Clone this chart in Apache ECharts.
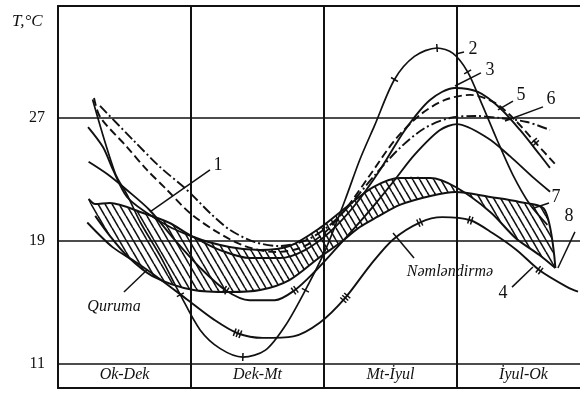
<!DOCTYPE html>
<html>
<head>
<meta charset="utf-8">
<script src="https://cdn.jsdelivr.net/npm/echarts@6/dist/echarts.min.js"></script>
<style>
html, body { margin: 0; background: #fff; }
#chart { width: 580px; height: 395px; }
</style>
</head>
<body>
<div id="chart"></div>
<script>
// periods along the bottom band, and the temperature rows
var periods = ['Ok-Dek', 'Dek-Mt', 'Mt-İyul', 'İyul-Ok'];
var periodEdges = [1, 2, 3];
var tempTicks = [11, 19, 27];

// curves as [position along the periods, T °C]
var curve1 = [[0.23,24.15],[0.37,23.35],[0.52,22.3],[0.69,21.0],[0.88,19.05],[1.07,17.25],[1.26,15.8],[1.44,15.15],[1.63,15.15],[1.78,15.8],[1.93,17.0],[2.08,18.4],[2.23,19.85],[2.38,21.35],[2.53,22.95],[2.68,24.6],[2.87,26.2],[3.0,26.6],[3.23,25.7],[3.4,24.5],[3.57,23.15],[3.7,22.2]];
var curve2 = [[0.26,28.2],[0.43,23.4],[0.52,22.0],[0.62,20.2],[0.77,18.0],[0.92,15.5],[1.07,13.2],[1.22,12.0],[1.39,11.45],[1.56,11.9],[1.71,13.5],[1.86,15.8],[2.01,18.4],[2.16,21.7],[2.27,24.3],[2.38,26.5],[2.53,29.5],[2.68,31.0],[2.85,31.55],[2.97,31.2],[3.08,30.0],[3.19,27.85],[3.3,25.6],[3.42,23.3],[3.55,21.35],[3.68,20.05]];
var curve3 = [[0.226,26.41],[0.338,25.11],[0.414,23.62],[0.519,21.86],[0.669,20.82],[0.842,19.91],[1.015,19.26],[1.218,18.41],[1.444,17.89],[1.669,17.89],[1.857,18.41],[2.045,19.59],[2.233,21.34],[2.421,23.62],[2.609,26.22],[2.797,28.17],[2.985,28.95],[3.158,28.69],[3.323,27.65],[3.474,26.22],[3.624,24.59],[3.699,23.75]];
var curve4 = [[0.22,20.2],[0.41,18.6],[0.59,17.6],[0.77,16.5],[0.97,15.2],[1.17,13.9],[1.35,13.0],[1.54,12.7],[1.77,12.8],[1.97,13.7],[2.16,15.3],[2.35,17.45],[2.52,19.1],[2.72,20.2],[2.89,20.55],[3.1,20.35],[3.27,19.5],[3.45,18.4],[3.62,17.1],[3.83,16.0],[3.91,15.7]];
var curve5 = [[0.271,28.3],[0.316,27.07],[0.519,25.11],[0.669,23.62],[0.82,22.32],[0.992,20.82],[1.195,19.59],[1.406,18.67],[1.632,18.28],[1.82,18.54],[1.985,19.39],[2.158,21.02],[2.346,23.29],[2.534,25.57],[2.722,27.2],[2.91,28.17],[3.098,28.5],[3.286,27.98],[3.436,26.87],[3.586,25.44],[3.744,23.94]];
var curve6 = [[0.316,27.78],[0.564,25.57],[0.767,23.81],[0.97,22.32],[1.143,20.82],[1.293,19.72],[1.481,18.93],[1.669,18.67],[1.872,19.07],[2.045,20.04],[2.195,21.34],[2.383,23.29],[2.571,25.05],[2.759,26.35],[2.947,27.0],[3.135,27.13],[3.323,27.0],[3.526,26.74],[3.699,26.22]];
// hatched zone: curve 8 on top at the left, curve 7 below it
var curve8 = [[0.23,21.73],[0.28,21.4],[0.39,21.47],[0.64,20.82],[0.84,20.17],[1.02,19.26],[1.29,18.61],[1.52,18.41],[1.74,18.67],[1.97,19.85],[2.17,21.21],[2.37,22.51],[2.57,23.1],[2.8,23.1],[2.99,22.51],[3.25,20.89],[3.44,19.2],[3.62,18.09],[3.74,17.24]];
var curve7 = [[0.28,20.63],[0.39,19.33],[0.52,18.02],[0.71,16.72],[1.02,15.81],[1.29,15.68],[1.52,15.81],[1.74,16.46],[1.97,17.96],[2.12,18.87],[2.27,19.91],[2.4,20.56],[2.57,21.35],[2.8,21.93],[2.99,22.19],[3.25,21.86],[3.47,21.54],[3.66,21.02],[3.74,17.24]];

var curves = { c1: curve1, c2: curve2, c4: curve4, c5: curve5 };
// cross-bars drawn on the curves: curve, point index, number of bars
var crossBars = [
  ['c2', 5, 1], ['c2', 8, 1], ['c2', 11, 1], ['c2', 16, 1], ['c2', 18, 1], ['c2', 20, 1],
  ['c4', 6, 3], ['c4', 10, 3], ['c4', 13, 2], ['c4', 15, 2], ['c4', 18, 2],
  ['c1', 6, 2], ['c1', 9, 2],
  ['c5', 19, 2]
];

// text, text spot, leader from, leader to
var notes = [
  ['1', [1.203,23.94], [1.143,23.62], [0.692,20.89]],
  ['2', [3.12,31.49], [3.053,31.29], [2.992,31.16]],
  ['3', [3.248,30.12], [3.18,29.93], [2.985,29.08]],
  ['4', [3.346,15.62], [3.414,16.0], [3.571,17.31]],
  ['5', [3.481,28.5], [3.421,28.1], [3.308,27.52]],
  ['6', [3.707,28.24], [3.647,27.72], [3.361,26.8]],
  ['7', [3.744,21.86], [3.692,21.47], [3.579,21.15]],
  ['8', [3.842,20.63], [3.887,19.59], [3.759,17.24]],
  ['Quruma', [0.421,14.71], [0.496,15.68], [0.669,17.11]],
  ['Nəmləndirmə', [2.947,16.98], [2.677,17.89], [2.519,19.52]]
];

var ink = '#111';
var serif = '"Liberation Serif", "DejaVu Serif", serif';

// diagonal hatch tile
var hatch = document.createElement('canvas');
hatch.width = 7; hatch.height = 12;
(function () {
  var c = hatch.getContext('2d');
  c.strokeStyle = ink; c.lineWidth = 1.6;
  [-7, 0, 7].forEach(function (o) {
    c.beginPath(); c.moveTo(o, 0); c.lineTo(o + 7, 12); c.stroke();
  });
})();

function curve(data, type, width) {
  return {
    type: 'line', data: data, smooth: 0.3, symbol: 'none', z: 3,
    lineStyle: { color: ink, width: width || 1.9, type: type || 'solid' },
    silent: true
  };
}

var chart = echarts.init(document.getElementById('chart'));
chart.setOption({
  animation: false,
  backgroundColor: '#fff',
  title: {
    text: 'T,°C', left: 7, top: 8,
    textStyle: { fontFamily: serif, fontStyle: 'italic', fontWeight: 'normal', fontSize: 17, color: ink }
  },
  grid: { left: 58, right: 0, top: 6, bottom: 7 },
  xAxis: [{
    type: 'value', min: 0, max: 3.925, position: 'bottom',
    axisLine: { show: true, lineStyle: { color: ink, width: 2 } },
    axisTick: { show: false },
    splitLine: { show: false },
    axisLabel: {
      inside: true, margin: 5, customValues: [0.5, 1.5, 2.5, 3.5],
      formatter: function (v) { return periods[Math.floor(v)]; },
      fontFamily: serif, fontStyle: 'italic', fontSize: 16, color: ink
    }
  }, {
    type: 'value', min: 0, max: 3.925, position: 'top',
    axisLine: { show: true, lineStyle: { color: ink, width: 2 } },
    axisTick: { show: false }, axisLabel: { show: false }, splitLine: { show: false }
  }],
  yAxis: {
    type: 'value', min: 9.44, max: 34.28,
    axisLine: { show: true, lineStyle: { color: ink, width: 2 } },
    axisTick: { show: false },
    splitLine: { show: false },
    axisLabel: { customValues: tempTicks, margin: 13, fontFamily: serif, fontSize: 16, color: ink }
  },
  series: [
    {
      type: 'custom', silent: true, z: 1,
      data: [[0, 20]],
      renderItem: function (params, api) {
        var pts = curve8.map(function (p) { return api.coord(p); })
          .concat(curve7.slice().reverse().map(function (p) { return api.coord(p); }));
        return {
          type: 'polygon', shape: { points: pts, smooth: 0.3 },
          style: { fill: { image: hatch, repeat: 'repeat' }, stroke: null }
        };
      },
      markLine: {
        silent: true, symbol: ['none', 'none'], label: { show: false },
        lineStyle: { color: ink, width: 1.6, type: 'solid' },
        data: tempTicks.map(function (t) { return { yAxis: t }; })
          .concat(periodEdges.map(function (x) { return { xAxis: x, lineStyle: { width: 2 } }; }))
      }
    },
    curve(curve1, 'solid'),
    curve(curve2, 'solid', 1.7),
    curve(curve3, 'solid'),
    curve(curve4, 'solid'),
    curve(curve5, [8, 4]),
    curve(curve6, [10, 3, 2, 3]),
    curve(curve7, 'solid', 2),
    curve(curve8, 'solid', 2),
    {
      // short bars across the curves
      type: 'custom', silent: true, z: 4,
      data: crossBars.map(function (m) { return curves[m[0]][m[1]]; }),
      renderItem: function (params, api) {
        var m = crossBars[params.dataIndex], line = curves[m[0]];
        var p = api.coord(line[m[1]]);
        var a = api.coord(line[m[1] - 1]), b = api.coord(line[m[1] + 1]);
        var tx = b[0] - a[0], ty = b[1] - a[1], len = Math.sqrt(tx * tx + ty * ty);
        tx /= len; ty /= len;
        var nx = -ty, ny = tx, bars = [];
        for (var k = 0; k < m[2]; k++) {
          var off = (k - (m[2] - 1) / 2) * 3;
          var cx = p[0] + tx * off, cy = p[1] + ty * off;
          bars.push({
            type: 'line',
            shape: { x1: cx - nx * 4, y1: cy - ny * 4, x2: cx + nx * 4, y2: cy + ny * 4 },
            style: { stroke: ink, lineWidth: 1.5 }
          });
        }
        return { type: 'group', children: bars };
      }
    },
    {
      type: 'custom', silent: true, z: 5,
      data: notes.map(function (n) { return n[1]; }),
      renderItem: function (params, api) {
        var n = notes[params.dataIndex];
        var at = api.coord(n[1]), a = api.coord(n[2]), b = api.coord(n[3]);
        var isNum = /^\d$/.test(n[0]);
        return {
          type: 'group',
          children: [{
            type: 'line', shape: { x1: a[0], y1: a[1], x2: b[0], y2: b[1] },
            style: { stroke: ink, lineWidth: 1.5 }
          }, {
            type: 'text', x: at[0], y: at[1],
            style: {
              text: n[0], fill: ink,
              font: (isNum ? '' : 'italic ') + (isNum ? 18 : 16) + 'px ' + serif,
              align: 'center', verticalAlign: 'middle',
              textAlign: 'center', textVerticalAlign: 'middle'
            }
          }]
        };
      }
    }
  ]
});
</script>
</body>
</html>
